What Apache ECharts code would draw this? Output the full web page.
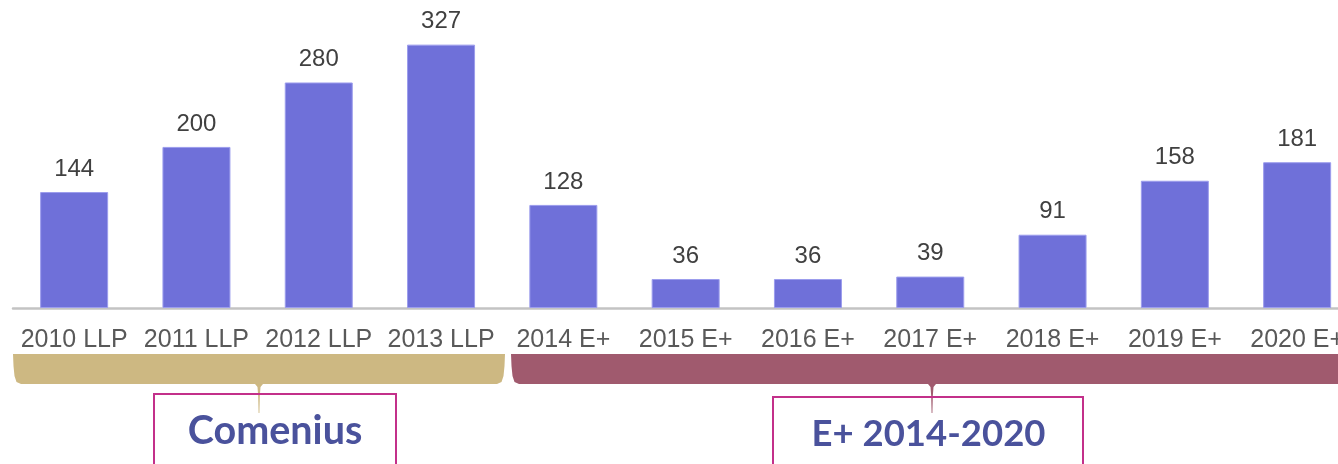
<!DOCTYPE html>
<html>
<head>
<meta charset="utf-8">
<script src="https://cdn.jsdelivr.net/npm/echarts@6/dist/echarts.min.js"></script>
<style>
  html,body{margin:0;padding:0;background:#fff;overflow:hidden;}
  /* plot runs past the right edge of the window, like the original */
  #main{width:1359px;height:464px;}
</style>
</head>
<body>
<div id="main"></div>
<script>
  var categories = ['2010 LLP','2011 LLP','2012 LLP','2013 LLP','2014 E+','2015 E+','2016 E+','2017 E+','2018 E+','2019 E+','2020 E+'];
  var projects = [144,200,280,327,128,36,36,39,91,158,181];
  var groupNames = ['Comenius','E+ 2014-2020'];

  // brace outline as polygon points: x0,x1 edges, tip = pointer x
  function bracePoints(x0, x1, tip) {
    var top = 354, bot = 384, end = 413;
    return [
      [x0, top], [x1, top],
      [x1 - 0.5, top + 12], [x1 - 1.5, top + 22], [x1 - 3.5, bot - 2], [x1 - 8, bot],
      [tip + 4, bot], [tip + 1.5, bot + 3], [tip + 0.8, bot + 12], [tip + 0.4, end],
      [tip - 0.4, end], [tip - 0.8, bot + 12], [tip - 1.5, bot + 3], [tip - 4, bot],
      [x0 + 8, bot], [x0 + 3.5, bot - 2], [x0 + 1.5, top + 22], [x0 + 0.5, top + 12]
    ];
  }

  var chart = echarts.init(document.getElementById('main'));
  var option = {
    animation: false,
    grid: {left: 13, top: 10, right: 0.7, bottom: 156},
    xAxis: {
      type: 'category',
      data: categories,
      axisTick: {show: false},
      axisLine: {lineStyle: {color: '#c3c3c3', width: 2.5}},
      axisLabel: {
        interval: 0, margin: 20, color: '#595959',
        fontSize: 25, fontFamily: 'Liberation Sans, Arial'
      }
    },
    yAxis: {
      type: 'value', min: 0, max: 370,
      show: false, splitLine: {show: false}
    },
    series: [{
      type: 'bar',
      data: projects,
      barWidth: 68,
      itemStyle: {color: '#6f70d9', borderColor: '#9c9ded', borderWidth: 1},
      label: {
        show: true, position: 'top', distance: 11,
        color: '#404040', fontSize: 24, fontFamily: 'Liberation Sans, Arial'
      }
    }],
    graphic: [
      {type: 'polygon', shape: {points: bracePoints(13, 505, 259)}, style: {fill: '#cdb882'}},
      {type: 'polygon', shape: {points: bracePoints(511, 1353, 932)}, style: {fill: '#a05a6e'}},
      {type: 'rect', shape: {x: 154, y: 394, width: 242, height: 90},
        style: {fill: 'none', stroke: '#c3308a', lineWidth: 2}},
      {type: 'rect', shape: {x: 773, y: 397, width: 310, height: 90},
        style: {fill: 'none', stroke: '#c3308a', lineWidth: 2}},
      {type: 'text', x: 275, y: 431,
        style: {text: groupNames[0], fill: '#4a529c', font: 'bold 39.5px Lato', align: 'center', verticalAlign: 'middle'}},
      {type: 'text', x: 928.5, y: 434,
        style: {text: groupNames[1], fill: '#4a529c', font: 'bold 36.5px Lato', align: 'center', verticalAlign: 'middle'}}
    ]
  };
  chart.setOption(option);
</script>
</body>
</html>
